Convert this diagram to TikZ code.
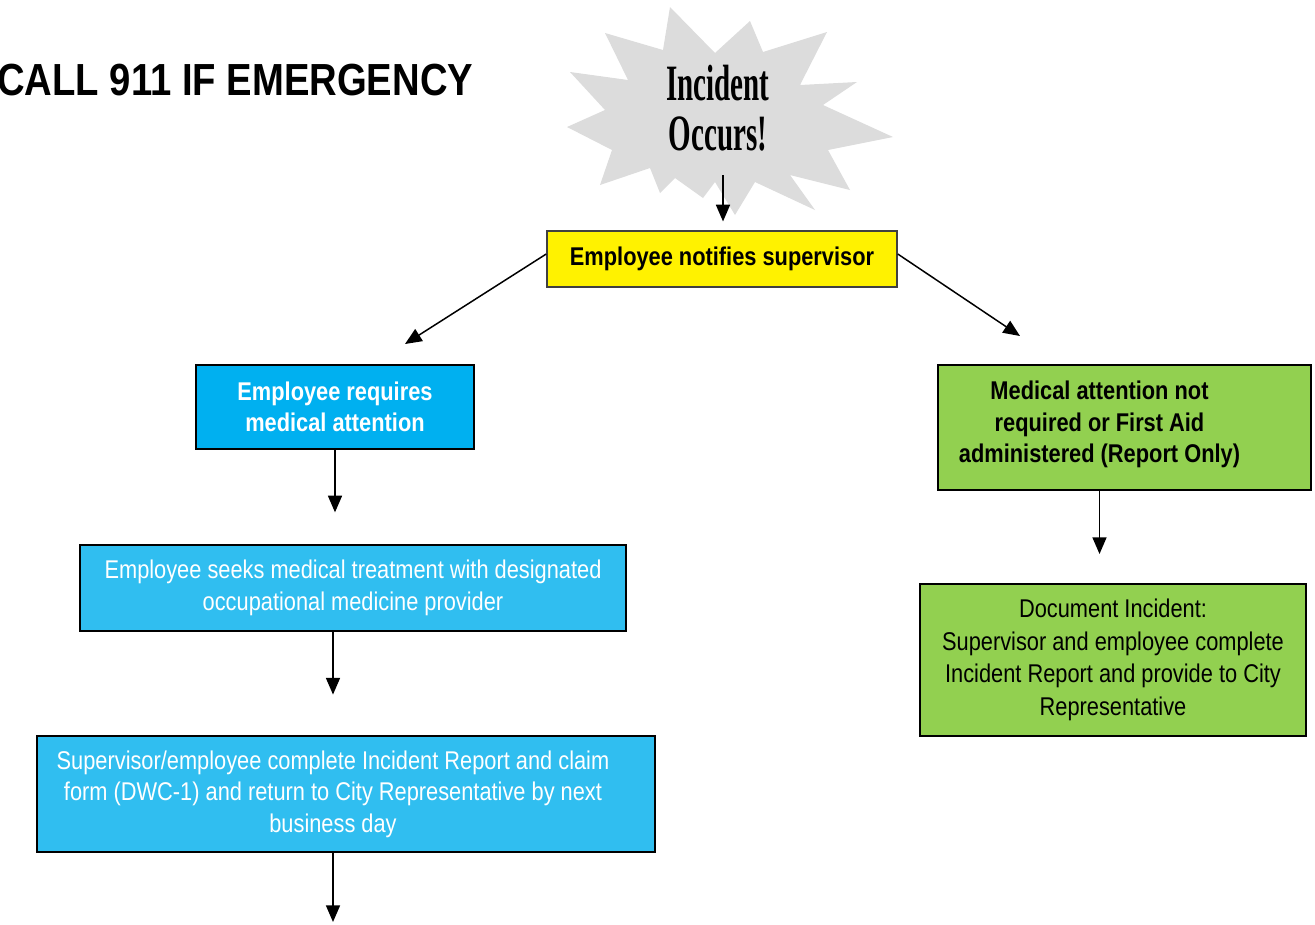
\documentclass[tikz,border=0pt]{standalone}
\usepackage{fontspec}
\setmainfont[FakeStretch=0.85]{Liberation Sans}
\newfontfamily\burstfont[FakeStretch=0.57]{Liberation Serif}
\usetikzlibrary{arrows.meta}
\definecolor{skyA}{HTML}{00B0F0}
\definecolor{skyB}{HTML}{30BEF0}
\definecolor{leaf}{HTML}{92D050}
\definecolor{burstgray}{HTML}{DCDCDC}
\tikzset{>={Triangle[width=8pt,length=9.5pt]}, arr/.style={->,black,line width=0.85pt},
  box/.style={draw=black, line width=1.2pt, inner sep=0pt, align=center, font=\fontsize{14.6}{18}\selectfont},
  boxtext/.style={align=center, inner sep=0pt, font=\fontsize{14.6}{18}\selectfont}}

\begin{document}
\begin{tikzpicture}[x=0.02cm,y=-0.02cm]
   \useasboundingbox (0,0) rectangle (1315,924);
   % title
   \node[anchor=west,inner sep=0pt,font=\fontsize{25.6}{30}\selectfont\bfseries] (call) at (-3,80) {CALL 911 IF EMERGENCY};
   % starburst
   \fill[burstgray] (670,7) -- (715,53) -- (750,21) -- (763,52) -- (827,32) -- (800,85)
      -- (857,82) -- (823,105) -- (893,137) -- (828,150) -- (850,190) -- (790,175)
      -- (815,210) -- (755,182) -- (735,215) -- (715,182) -- (703,198) -- (675,178)
      -- (660,193) -- (650,168) -- (600,185) -- (612,150) -- (567,127) -- (605,110)
      -- (570,72) -- (628,80) -- (605,33) -- (663,50) -- cycle;
   \node[align=center,inner sep=0pt,font=\fontsize{29}{28.5}\burstfont\bfseries] (burst) at (718,108) {Incident\\Occurs!};
   \coordinate (burstfoot) at (723,175);
   % boxes
   \node[box,fill=yellow,draw=black!75,line width=0.9pt,minimum width=7cm,minimum height=1.12cm,font=\fontsize{14.6}{18}\selectfont\bfseries] (yel) at (722,259) {Employee notifies supervisor};
   \node[box,fill=skyA,text=white,minimum width=5.56cm,minimum height=1.68cm,font=\fontsize{14.6}{18}\selectfont\bfseries] (blue1) at (335,407) {Employee requires\\medical attention};
   \node[box,fill=skyB,text=white,minimum width=10.92cm,minimum height=1.72cm] (blue2) at (353,588) {Employee seeks medical treatment with designated\\occupational medicine provider};
   \node[box,fill=skyB,minimum width=12.36cm,minimum height=2.32cm] (blue3) at (346,794) {};
   \node[boxtext,text=white] (blue3text) at ([xshift=-0.26cm]blue3.center) {Supervisor/employee complete Incident Report and claim\\form (DWC-1) and return to City Representative by next\\business day};
   \node[box,fill=leaf,minimum width=7.46cm,minimum height=2.5cm] (green1) at (1124.5,427.5) {};
   \node[boxtext,font=\fontsize{14.6}{18}\selectfont\bfseries] (green1text) at ([xshift=-0.5cm,yshift=0.06cm]green1.center) {Medical attention not\\required or First Aid\\administered (Report Only)};
   \node[box,fill=leaf,minimum width=7.72cm,minimum height=3.04cm,font=\fontsize{14.6}{18.5}\selectfont] (green2) at (1113,660) {Document Incident:\\Supervisor and employee complete\\Incident Report and provide to City\\Representative};
   % connectors
   \coordinate (lefttip) at (405,344);
   \coordinate (righttip) at (1020,336);
   \coordinate (nextstep) at (333,922);
   \draw[arr,shorten >=5pt] (burstfoot) -- (burstfoot |- yel.north);
   \draw[arr] ([yshift=0.1cm]yel.west) -- (lefttip);
   \draw[arr] ([yshift=0.1cm]yel.east) -- (righttip);
   \draw[arr,shorten >=18pt] (blue1.south) -- (blue1.south |- blue2.north);
   \draw[arr,shorten >=23pt] (nextstep |- blue2.south) -- (nextstep |- blue3.north);
   \draw[arr] (nextstep |- blue3.south) -- (nextstep);
   \draw[arr,shorten >=16.5pt] (green1.south -| green1text) -- (green2.north -| green1text);
\end{tikzpicture}
\end{document}
